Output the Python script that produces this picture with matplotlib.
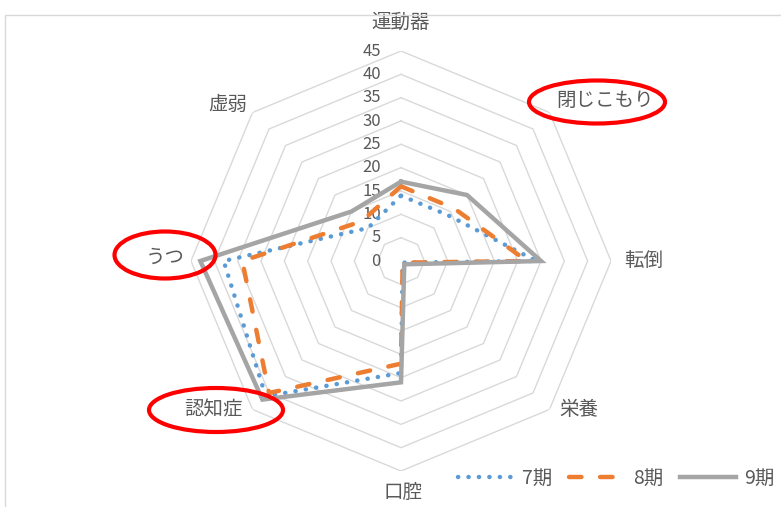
import numpy as np
import matplotlib
matplotlib.use("Agg")
import matplotlib.pyplot as plt
from matplotlib.patches import Ellipse, Rectangle

plt.rcParams['font.family'] = ['Noto Sans CJK JP', 'DejaVu Sans']

#### data ####
categories = ['運動器', '閉じこもり', '転倒', '栄養', '口腔', '認知症', 'うつ', '虚弱']
series_names = ['7期', '8期', '9期']
s7 = [14, 14, 29, 0.5, 24, 41, 38, 10]
s8 = [16, 16, 27, 0.5, 22, 40, 34, 12]
s9 = [17, 20, 30, 1, 26, 42, 43, 15]
r_ticks = [0, 5, 10, 15, 20, 25, 30, 35, 40, 45]

text_col = '#595959'
grid_col = '#d9d9d9'

W, H = 781, 507
fig = plt.figure(figsize=(W / 100, H / 100), dpi=100)

# radar center at (401, 261) px from top-left, radius 210 px
cx, cy, rad = 401, 261, 210
ax = fig.add_axes([(cx - rad) / W, (H - cy - rad) / H, 2 * rad / W, 2 * rad / H],
                  projection='polar')
ax.set_theta_zero_location('N')
ax.set_theta_direction(-1)
ax.set_ylim(0, 45)
ax.grid(False)
ax.set_xticks([])
ax.set_yticks([])
ax.spines['polar'].set_visible(False)
ax.patch.set_alpha(0)

n = len(categories)
angles = np.arange(n) * 2 * np.pi / n
closed = np.append(angles, angles[0])

# octagon gridlines
for v in r_ticks[1:]:
    ax.plot(closed, [v] * (n + 1), color=grid_col, lw=1.0, zorder=1)

# value labels left of the vertical axis
for v in r_ticks:
    ax.annotate(str(v), xy=(0, v), xytext=(-20, 0), textcoords='offset pixels',
                ha='right', va='center', fontsize=12, color=text_col)

# category labels
label_offsets = [(0, 29, 'center'), (7, 12, 'left'), (13, 1, 'left'), (10, 0, 'left'),
                 (2, -21, 'center'), (-10, 0, 'right'), (-6, 4, 'right'), (-5, 8, 'right')]
for ang, name, (dx, dy, ha) in zip(angles, categories, label_offsets):
    ax.annotate(name, xy=(ang, 45), xytext=(dx, dy), textcoords='offset pixels',
                ha=ha, va='center', fontsize=14, color=text_col)

# series
l7, = ax.plot(closed, s7 + s7[:1], color='#5b9bd5', lw=3.2, dashes=(0.05, 2.3),
              dash_capstyle='round', zorder=3)
l8, = ax.plot(closed, s8 + s8[:1], color='#ed7d31', lw=3.2, dashes=(2.8, 4.2),
              dash_capstyle='round', zorder=4)
l9, = ax.plot(closed, s9 + s9[:1], color='#a5a5a5', lw=3.2, solid_joinstyle='miter',
              zorder=5)

ax.legend([l7, l8, l9], series_names, loc='center left',
          bbox_to_anchor=(458 / W, 1 - 478 / H), bbox_transform=fig.transFigure,
          ncol=3, frameon=False, fontsize=14, labelcolor=text_col,
          handlelength=2.9, handletextpad=0.4, columnspacing=0.85,
          borderpad=0, borderaxespad=0)

# overlay in pixel coords: chart frame and red hand-drawn ellipses
ov = fig.add_axes([0, 0, 1, 1])
ov.set_xlim(0, W)
ov.set_ylim(H, 0)
ov.axis('off')
ov.patch.set_alpha(0)
ov.add_patch(Rectangle((5, 15), W + 20, H + 20, fill=False, ec=grid_col, lw=1.0))
for (ex, ey, ew, eh) in [(597, 102, 136, 43), (165, 255, 101, 47), (216, 410, 134, 44)]:
    ov.add_patch(Ellipse((ex, ey), ew, eh, fill=False, ec='#ff0000', lw=3.0))

fig.savefig('out.png', dpi=100)
